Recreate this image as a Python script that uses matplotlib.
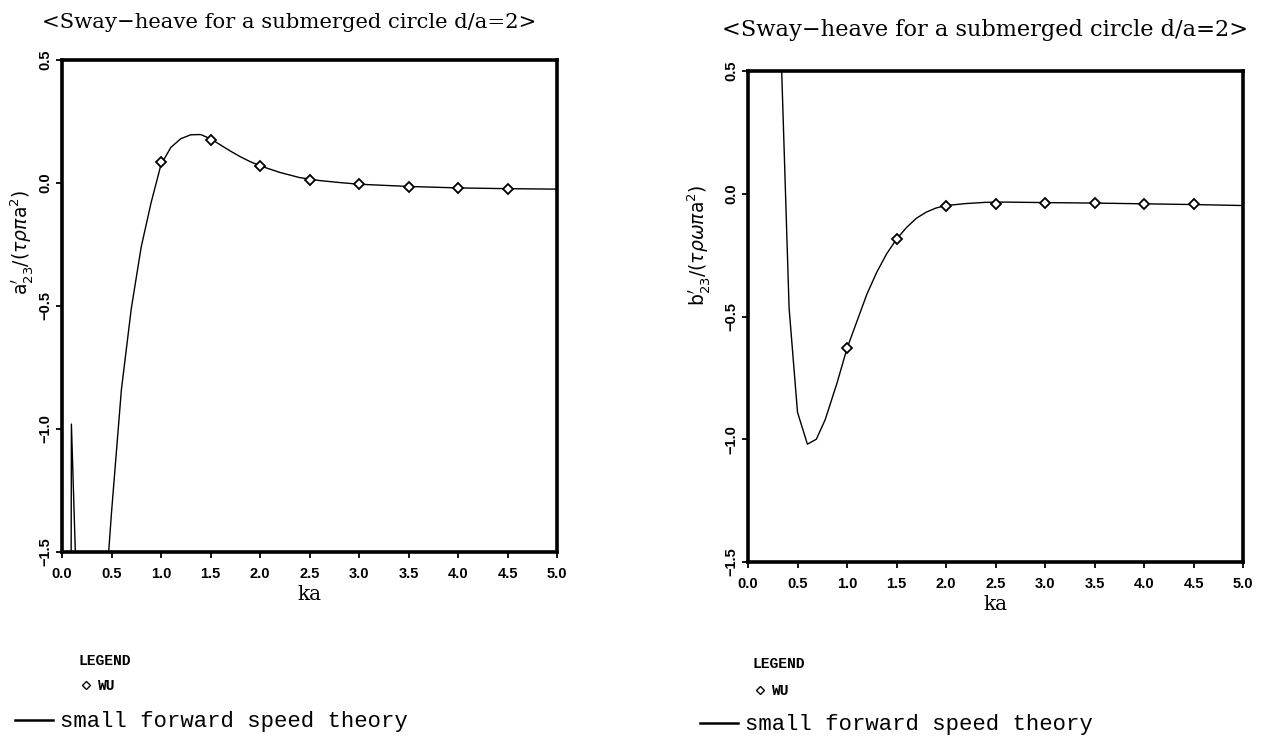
import matplotlib
matplotlib.use("Agg")
import matplotlib.pyplot as plt
import numpy as np

# ---- data ----
title_text = "<Sway\u2212heave for a submerged circle d/a=2>"
xticks = [0.0, 0.5, 1.0, 1.5, 2.0, 2.5, 3.0, 3.5, 4.0, 4.5, 5.0]
yticks = [0.5, 0.0, -0.5, -1.0, -1.5]

# left panel: a'23 small forward speed theory
ka_a = [0.09, 0.095, 0.15, 0.3, 0.4, 0.5, 0.6, 0.7, 0.8, 0.9, 1.0, 1.1, 1.2, 1.3, 1.4,
        1.5, 1.6, 1.7, 1.8, 1.9, 2.0, 2.2, 2.4, 2.6, 2.8, 3.0, 3.5, 4.0, 4.5, 5.0]
a23 = [-2.0, -0.98, -1.7, -3.0, -1.9, -1.34, -0.84, -0.51, -0.26, -0.08, 0.075, 0.145, 0.18,
       0.196, 0.197, 0.18, 0.155, 0.13, 0.107, 0.087, 0.07, 0.043, 0.022, 0.01, 0.002,
       -0.005, -0.014, -0.02, -0.023, -0.025]
# left panel: WU points
ka_wu = [1.0, 1.5, 2.0, 2.5, 3.0, 3.5, 4.0, 4.5]
a23_wu = [0.085, 0.175, 0.069, 0.012, -0.004, -0.016, -0.02, -0.024]

# right panel: b'23 small forward speed theory
ka_b = [0.3, 0.415, 0.5, 0.6, 0.69, 0.78, 0.9, 1.0, 1.1, 1.2, 1.3, 1.4, 1.5, 1.6, 1.7,
        1.8, 1.9, 2.0, 2.2, 2.4, 2.6, 3.0, 3.5, 4.0, 4.5, 5.0]
b23 = [1.02, -0.465, -0.89, -1.02, -1.0, -0.92, -0.77, -0.63, -0.52, -0.41, -0.32, -0.245,
       -0.185, -0.138, -0.10, -0.075, -0.058, -0.048, -0.04, -0.035, -0.034, -0.036,
       -0.038, -0.041, -0.044, -0.048]
b23_wu = [-0.63, -0.183, -0.05, -0.041, -0.039, -0.036, -0.04, -0.041]

fig = plt.figure(figsize=(12.65, 7.48), dpi=100)

def setup(ax, ylabel, ylab_pos):
    ax.set_xlim(0, 5)
    ax.set_ylim(-1.5, 0.5)
    for s in ['top', 'right', 'left', 'bottom']:
        ax.spines[s].set_linewidth(2.6)
    ax.set_xticks(xticks)
    ax.set_xticklabels([f"{v:.1f}" for v in xticks], fontfamily='Liberation Sans',
                       fontweight='bold', fontsize=10.5)
    ax.set_yticks(yticks)
    ax.set_yticklabels([f"{v:.1f}".replace('-', '\u2212') for v in yticks],
                       fontfamily='Liberation Sans', fontweight='bold', fontsize=10.5,
                       rotation=90, va='center')
    ax.tick_params(axis='x', direction='out', length=4, width=1.3, pad=7)
    ax.tick_params(axis='y', direction='out', length=4, width=1.3, pad=3)
    ax.set_xlabel("ka", fontfamily='DejaVu Serif', fontsize=14.5, labelpad=3)
    ax.set_ylabel(ylabel, fontsize=13.5)
    ax.yaxis.set_label_coords(*ylab_pos)

axL = fig.add_axes([62/1265, 1-552/748, 495/1265, 492/748])
axL.plot(ka_a, a23, color='black', lw=1.0)
axL.plot(ka_wu, a23_wu, linestyle='none', marker='D', markersize=5.5,
         markerfacecolor='white', markeredgecolor='black', markeredgewidth=1.3)
setup(axL, r"$\mathrm{a}_{23}'/(\tau\rho\pi\mathrm{a}^2)$", (-0.055, 0.63))

axR = fig.add_axes([748/1265, 1-562/748, 495/1265, 491/748])
axR.plot(ka_b, b23, color='black', lw=1.0)
axR.plot(ka_wu, b23_wu, linestyle='none', marker='D', markersize=5.5,
         markerfacecolor='white', markeredgecolor='black', markeredgewidth=1.3)
setup(axR, r"$\mathrm{b}_{23}'/(\tau\rho\omega\pi\mathrm{a}^2)$", (-0.072, 0.645))

# titles
fig.text(42/1265, 1-28/748, title_text, fontfamily='DejaVu Serif', fontsize=15.2,
         ha='left', va='baseline')
fig.text(722/1265, 1-36/748, title_text, fontfamily='DejaVu Serif', fontsize=16.2,
         ha='left', va='baseline')

# legends
for (lx, ly_leg, ly_wu, ly_line, sx) in [(78, 665, 690, 727, 15), (752, 668, 695, 730, 700)]:
    fig.text(lx/1265, 1-ly_leg/748, "LEGEND", fontfamily='Liberation Mono',
             fontweight='bold', fontsize=10.5, ha='left', va='baseline')
    fig.lines.append(plt.Line2D([(lx+8)/1265], [1-(ly_wu-5)/748], transform=fig.transFigure,
                                marker='D', markersize=4, markerfacecolor='white',
                                markeredgecolor='black', markeredgewidth=1.0, linestyle='none'))
    fig.text((lx+20)/1265, 1-ly_wu/748, "WU", fontfamily='Liberation Mono',
             fontweight='bold', fontsize=10.5, ha='left', va='baseline')
    fig.lines.append(plt.Line2D([sx/1265, (sx+38)/1265], [1-(ly_line-7)/748]*2,
                                transform=fig.transFigure, color='black', lw=1.8))
    fig.text((sx+45)/1265, 1-ly_line/748, "small forward speed theory",
             fontfamily='Liberation Mono', fontsize=16, ha='left', va='baseline')

fig.savefig("out.png", dpi=100, facecolor='white')
